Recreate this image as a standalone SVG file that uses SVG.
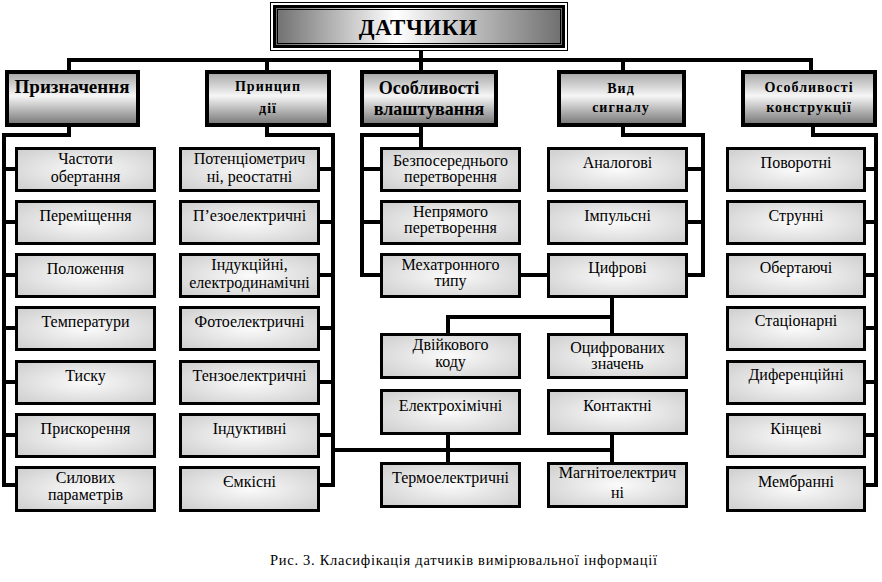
<svg xmlns="http://www.w3.org/2000/svg" width="882" height="582" viewBox="0 0 882 582">
<defs>
<linearGradient id="gTitle" x1="0" y1="0" x2="1" y2="0">
<stop offset="0" stop-color="#6e6e6e"/>
<stop offset="0.42" stop-color="#ffffff"/>
<stop offset="1" stop-color="#6e6e6e"/>
</linearGradient>
<linearGradient id="gHead" x1="0" y1="0" x2="0" y2="1">
<stop offset="0" stop-color="#a4a4a4"/>
<stop offset="0.45" stop-color="#f6f6f6"/>
<stop offset="1" stop-color="#747474"/>
</linearGradient>
<radialGradient id="gBox" cx="0.5" cy="0.5" r="0.62">
<stop offset="0" stop-color="#fbfbfb"/>
<stop offset="1" stop-color="#d2d2d2"/>
</radialGradient>
<style>
text{font-family:'Liberation Serif','DejaVu Serif',serif;fill:#000}
.hd{fill:url(#gHead);stroke:#000;stroke-width:4}
.bx{fill:url(#gBox);stroke:#000;stroke-width:3}
.t{font-size:16px;text-anchor:middle}
.hb{font-weight:bold;font-size:18px;text-anchor:middle}
.hs{font-weight:bold;font-size:14px;letter-spacing:1px;text-anchor:middle}
.ln{fill:none;stroke:#000;stroke-width:4;stroke-linejoin:miter;stroke-linecap:square}
</style>
</defs>
<rect width="882" height="582" fill="#fff"/>

<g id="connectors">
<path class="ln" d="M421,50 V70 M69,70 V60 H811 V70 M267,60 V70 M623,60 V70"/>
<path class="ln" d="M69,127 V135 H4 V485 H15 M4,169 H15 M4,222 H15 M4,275 H15 M4,328 H15 M4,382 H15 M4,435 H15"/>
<path class="ln" d="M267,127 V135 H333 V485 H320 M333,169 H320 M333,222 H320 M333,275 H320 M333,328 H320 M333,382 H320 M333,435 H320"/>
<path class="ln" d="M421,127 V147 M421,135 H362 V275 H380 M362,169 H380 M362,222 H380"/>
<path class="ln" d="M521,275 H547"/>
<path class="ln" d="M623,127 V135 H703 V275 H688 M703,169 H688 M703,222 H688"/>
<path class="ln" d="M612,298 V333 M612,317 H448 V333"/>
<path class="ln" d="M333,450 H612 M448,436 V462 M612,435 V462"/>
<path class="ln" d="M813,127 V135 H876 V485 H866 M876,169 H866 M876,222 H866 M876,275 H866 M876,328 H866 M876,382 H866 M876,435 H866"/>
</g>

<g id="title">
<rect x="270.5" y="2.5" width="297" height="48" fill="#fff" stroke="#000" stroke-width="1"/>
<rect x="274.5" y="6.5" width="289" height="40" fill="url(#gTitle)" stroke="#000" stroke-width="3"/>
<rect x="277.5" y="9.5" width="283" height="34" fill="none" stroke="#000" stroke-width="1"/>
<text x="418" y="35" font-size="23" font-weight="bold" text-anchor="middle" letter-spacing="0.5">ДАТЧИКИ</text>
</g>

<g id="h-pryznachennia">
<rect class="hd" x="7" y="72" width="131" height="53"/>
<text class="hb" x="72" y="93" style="font-size:19px">Призначення</text>
</g>
<g id="h-pryntsyp">
<rect class="hd" x="207" y="72" width="122" height="53"/>
<text class="hs" x="268" y="91">Принцип</text>
<text class="hs" x="268" y="113">дії</text>
</g>
<g id="h-vlashtuvannia">
<rect class="hd" x="362" y="72" width="134" height="53"/>
<text class="hb" x="429" y="94">Особливості</text>
<text class="hb" x="429" y="115">влаштування</text>
</g>
<g id="h-syhnal">
<rect class="hd" x="559" y="72" width="125" height="53"/>
<text class="hs" x="621" y="93">Вид</text>
<text class="hs" x="621" y="112">сигналу</text>
</g>
<g id="h-konstruktsiia">
<rect class="hd" x="743" y="72" width="132" height="53"/>
<text class="hs" x="809" y="92">Особливості</text>
<text class="hs" x="809" y="112">конструкції</text>
</g>

<!-- column 1 -->
<g id="c1-1"><rect class="bx" x="16.5" y="148.5" width="138" height="42"/><text class="t" x="85.5" y="164">Частоти</text><text class="t" x="85.5" y="182">обертання</text></g>
<g id="c1-2"><rect class="bx" x="16.5" y="201.5" width="138" height="42"/><text class="t" x="85.5" y="221">Переміщення</text></g>
<g id="c1-3"><rect class="bx" x="16.5" y="254.5" width="138" height="42"/><text class="t" x="85.5" y="274">Положення</text></g>
<g id="c1-4"><rect class="bx" x="16.5" y="307.5" width="138" height="42"/><text class="t" x="85.5" y="327">Температури</text></g>
<g id="c1-5"><rect class="bx" x="16.5" y="361.5" width="138" height="42"/><text class="t" x="85.5" y="381">Тиску</text></g>
<g id="c1-6"><rect class="bx" x="16.5" y="414.5" width="138" height="42"/><text class="t" x="85.5" y="434">Прискорення</text></g>
<g id="c1-7"><rect class="bx" x="16.5" y="467.5" width="138" height="43"/><text class="t" x="85.5" y="483">Силових</text><text class="t" x="85.5" y="500">параметрів</text></g>

<!-- column 2 -->
<g id="c2-1"><rect class="bx" x="180.5" y="148.5" width="138" height="42"/><text class="t" x="249.5" y="164">Потенціометрич</text><text class="t" x="249.5" y="182">ні, реостатні</text></g>
<g id="c2-2"><rect class="bx" x="180.5" y="201.5" width="138" height="42"/><text class="t" x="249.5" y="221">П’езоелектричні</text></g>
<g id="c2-3"><rect class="bx" x="180.5" y="254.5" width="138" height="42"/><text class="t" x="249.5" y="270">Індукційні,</text><text class="t" x="249.5" y="288">електродинамічні</text></g>
<g id="c2-4"><rect class="bx" x="180.5" y="307.5" width="138" height="42"/><text class="t" x="249.5" y="327">Фотоелектричні</text></g>
<g id="c2-5"><rect class="bx" x="180.5" y="361.5" width="138" height="42"/><text class="t" x="249.5" y="381">Тензоелектричні</text></g>
<g id="c2-6"><rect class="bx" x="180.5" y="414.5" width="138" height="42"/><text class="t" x="249.5" y="434">Індуктивні</text></g>
<g id="c2-7"><rect class="bx" x="180.5" y="467.5" width="138" height="43"/><text class="t" x="249.5" y="487">Ємкісні</text></g>

<!-- column 3 -->
<g id="c3-1"><rect class="bx" x="381.5" y="148.5" width="138" height="42"/><text class="t" x="450.5" y="166">Безпосереднього</text><text class="t" x="450.5" y="182">перетворення</text></g>
<g id="c3-2"><rect class="bx" x="381.5" y="201.5" width="138" height="42"/><text class="t" x="450.5" y="217">Непрямого</text><text class="t" x="450.5" y="233">перетворення</text></g>
<g id="c3-3"><rect class="bx" x="381.5" y="254.5" width="138" height="42"/><text class="t" x="450.5" y="270">Мехатронного</text><text class="t" x="450.5" y="286">типу</text></g>
<g id="c3-4"><rect class="bx" x="381.5" y="334.5" width="138" height="43"/><text class="t" x="450.5" y="350">Двійкового</text><text class="t" x="450.5" y="367">коду</text></g>
<g id="c3-5"><rect class="bx" x="381.5" y="390.5" width="138" height="43"/><text class="t" x="450.5" y="411">Електрохімічні</text></g>
<g id="c3-6"><rect class="bx" x="381.5" y="463.5" width="138" height="43"/><text class="t" x="450.5" y="483">Термоелектричні</text></g>

<!-- column 4 -->
<g id="c4-1"><rect class="bx" x="548.5" y="148.5" width="138" height="42"/><text class="t" x="617.5" y="168">Аналогові</text></g>
<g id="c4-2"><rect class="bx" x="548.5" y="201.5" width="138" height="42"/><text class="t" x="617.5" y="221">Імпульсні</text></g>
<g id="c4-3"><rect class="bx" x="548.5" y="254.5" width="138" height="42"/><text class="t" x="617.5" y="273">Цифрові</text></g>
<g id="c4-4"><rect class="bx" x="548.5" y="334.5" width="138" height="43"/><text class="t" x="617.5" y="353">Оцифрованих</text><text class="t" x="617.5" y="369">значень</text></g>
<g id="c4-5"><rect class="bx" x="548.5" y="390.5" width="138" height="43"/><text class="t" x="617.5" y="411">Контактні</text></g>
<g id="c4-6"><rect class="bx" x="548.5" y="463.5" width="138" height="43"/><text class="t" x="617.5" y="478">Магнітоелектрич</text><text class="t" x="617.5" y="498">ні</text></g>

<!-- column 5 -->
<g id="c5-1"><rect class="bx" x="727.5" y="148.5" width="137" height="42"/><text class="t" x="796" y="168">Поворотні</text></g>
<g id="c5-2"><rect class="bx" x="727.5" y="201.5" width="137" height="42"/><text class="t" x="796" y="221">Струнні</text></g>
<g id="c5-3"><rect class="bx" x="727.5" y="254.5" width="137" height="42"/><text class="t" x="796" y="273">Обертаючі</text></g>
<g id="c5-4"><rect class="bx" x="727.5" y="307.5" width="137" height="42"/><text class="t" x="796" y="326">Стаціонарні</text></g>
<g id="c5-5"><rect class="bx" x="727.5" y="361.5" width="137" height="42"/><text class="t" x="796" y="380">Диференційні</text></g>
<g id="c5-6"><rect class="bx" x="727.5" y="414.5" width="137" height="42"/><text class="t" x="796" y="434">Кінцеві</text></g>
<g id="c5-7"><rect class="bx" x="727.5" y="467.5" width="137" height="43"/><text class="t" x="796" y="487">Мембранні</text></g>

<text id="caption" x="270" y="565" font-size="14.5" textLength="387" lengthAdjust="spacing">Рис. 3. Класифікація датчиків вимірювальної інформації</text>
</svg>
